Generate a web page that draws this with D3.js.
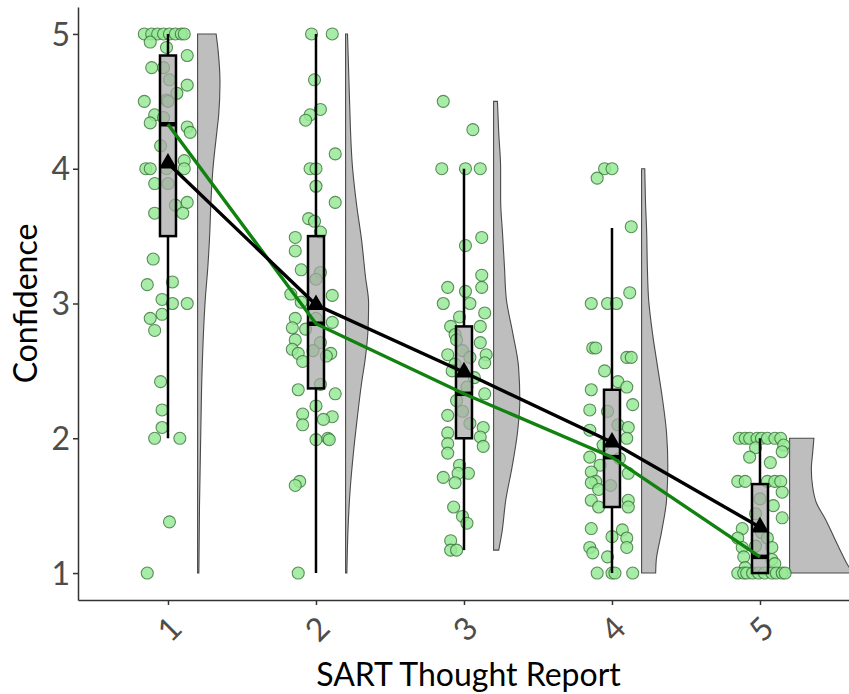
<!DOCTYPE html>
<html>
<head>
<meta charset="utf-8">
<script src="https://cdn.jsdelivr.net/npm/d3@7/dist/d3.min.js"></script>
<style>
  body { margin: 0; background: #fff; }
  text { font-family: "Gill Sans", "Gill Sans MT", Lato, sans-serif; }
</style>
</head>
<body>
<div id="container"></div>
<script>
// SART thought report categories and y ticks.
const categories = [1, 2, 3, 4, 5];
const yTicks = [1, 2, 3, 4, 5];

// Confidence per participant and the horizontal jitter of each dot, in category units.
const conf1 = [5, 5, 5, 5, 5, 5, 5, 5, 4.94, 4.9, 4.84, 4.75, 4.75, 4.66, 4.62, 4.56, 4.5, 4.51, 4.5, 4.4, 4.38, 4.34, 4.31, 4.27, 4.17, 4.06,
  4, 4, 4, 4, 3.89, 3.89, 3.75, 3.73, 3.67, 3.67, 3.33, 3.16, 3.14, 3.03, 3, 3, 2.92, 2.89, 2.8, 2.42, 2.21, 2.08, 2, 2, 1.38, 1];
const jit1 = [-0.16, -0.11, -0.07, -0.03, 0.01, 0.05, 0.09, 0.11, -0.12, -0.01, 0.13, -0.11, -0.03, 0.01, 0.13, 0.06, -0.16, -0.01, 0.0, -0.09, -0.03, -0.12, 0.13, 0.15, -0.05, 0.11,
  -0.15, -0.12, -0.01, 0.11, -0.09, 0.0, 0.13, 0.05, -0.09, 0.10, -0.10, 0.03, -0.14, -0.04, 0.03, 0.13, -0.04, -0.12, -0.09, -0.05, -0.04, -0.04, -0.09, 0.08, 0.01, -0.14];

const conf2 = [5, 5, 4.66, 4.44, 4.4, 4.36, 4.11, 4, 4, 3.87, 3.75, 3.63, 3.61, 3.53, 3.49, 3.39, 3.25, 3.23, 3.18, 3.07, 3.06, 3.01,
  2.89, 2.89, 2.86, 2.82, 2.81, 2.73, 2.71, 2.66, 2.63, 2.63, 2.65, 2.57, 2.61, 2.4, 2.36, 2.33, 2.24, 2.18, 2.16, 2.14, 2.1, 2, 1.99, 1.99, 1.68, 1.65, 1];
const jit2 = [-0.03, 0.11, -0.01, 0.03, -0.04, -0.07, 0.13, -0.04, 0.0, 0.0, 0.13, -0.05, -0.01, 0.03, -0.14, -0.14, -0.10, 0.03, 0.0, -0.17, 0.11, -0.10,
  -0.14, 0.0, 0.11, -0.16, -0.07, -0.14, 0.03, -0.16, -0.12, 0.10, -0.02, -0.09, 0.07, 0.03, -0.12, 0.13, 0.0, -0.09, 0.11, 0.05, -0.09, 0.08, 0.0, 0.09, -0.11, -0.14, -0.12];

const conf3 = [4.5, 4.29, 4, 4, 4, 3.49, 3.43, 3.21, 3.12, 3.12, 3.09, 3, 3, 2.93, 2.9, 2.83, 2.83, 2.77, 2.73, 2.71, 2.65, 2.62, 2.62, 2.6, 2.56, 2.55,
  2.5, 2.45, 2.38, 2.33, 2.28, 2.2, 2.17, 2.11, 2.08, 2.04, 2.01, 1.96, 1.94, 1.89, 1.8, 1.74, 1.74, 1.71, 1.67, 1.49, 1.42, 1.37, 1.24, 1.17, 1.17];
const jit3 = [-0.14, 0.06, -0.15, 0.01, 0.11, 0.12, 0.01, 0.12, 0.12, -0.11, 0.01, -0.14, 0.04, 0.14, -0.03, -0.09, 0.11, -0.06, -0.05, 0.11, -0.01, 0.15, -0.11, 0.04, 0.14, -0.06,
  -0.08, 0.07, 0.02, 0.14, -0.05, -0.01, -0.11, 0.04, 0.13, -0.11, 0.11, -0.11, 0.13, -0.11, -0.03, 0.03, -0.04, -0.14, -0.06, -0.07, -0.01, 0.02, -0.09, -0.09, -0.05];

const conf4 = [4, 4, 3.93, 3.57, 3.08, 3, 3, 3, 2.67, 2.67, 2.6, 2.6, 2.5, 2.42, 2.38, 2.36, 2.25, 2.21, 2.2, 2.1, 2.08, 2.06, 2, 1.95, 1.86, 1.85,
  1.8, 1.75, 1.74, 1.68, 1.67, 1.65, 1.62, 1.54, 1.54, 1.49, 1.49, 1.33, 1.32, 1.27, 1.26, 1.19, 1.19, 1.15, 1.12, 1, 1, 1, 1];
const jit4 = [-0.05, 0.0, -0.10, 0.13, 0.12, -0.14, -0.03, 0.03, -0.13, -0.11, 0.10, 0.13, -0.05, 0.04, 0.10, -0.14, 0.14, -0.15, -0.03, 0.04, 0.11, -0.15, 0.10, -0.06, -0.15, 0.05,
  -0.08, -0.14, 0.11, -0.11, -0.14, -0.01, -0.09, -0.14, 0.11, 0.11, -0.09, -0.14, 0.07, 0.0, 0.10, 0.10, -0.15, -0.13, -0.03, -0.10, 0.0, 0.02, 0.14];

const conf5 = [2, 2, 2, 2, 2, 2, 2, 2, 1.95, 1.93, 1.9, 1.86, 1.82, 1.68, 1.68, 1.68, 1.68, 1.68, 1.6, 1.55, 1.5, 1.44, 1.41, 1.33, 1.3,
  1.26, 1.26, 1.2, 1.19, 1.19, 1.12, 1.1, 1.07, 1.04, 1, 1, 1, 1, 1, 1, 1, 1, 1, 1];
const jit5 = [-0.14, -0.10, -0.07, -0.02, 0.01, 0.05, 0.10, 0.14, 0.16, -0.03, 0.15, -0.07, 0.07, -0.15, -0.10, 0.05, 0.10, 0.14, 0.15, 0.0, 0.09, -0.03, 0.15, -0.12, 0.01,
  -0.15, 0.05, -0.03, -0.12, 0.08, -0.11, 0.08, 0.10, -0.10, -0.15, -0.11, -0.09, -0.05, -0.01, 0.03, 0.08, 0.11, 0.15, 0.17];

// Box plot summaries.
const medians = [4.33, 2.85, 2.33, 1.86, 1.12];
const means = [4.04, 2.99, 2.49, 1.97, 1.34];
const q1 = [3.5, 2.37, 2.0, 1.49, 1.0];
const q3 = [4.84, 3.5, 2.83, 2.36, 1.66];
const whiskLo = [2.0, 1.0, 1.17, 1.0, 1.0];
const whiskHi = [5.0, 5.0, 4.0, 3.56, 2.0];

// Half-violin density profiles: [confidence, relative density].
const dens1 = [[5, 0.29], [4.88, 0.32], [4.64, 0.35], [4.4, 0.33], [4.27, 0.30], [4.0, 0.24], [3.77, 0.21], [3.52, 0.19], [3.27, 0.16], [3.03, 0.12], [2.5, 0.07], [2.04, 0.05], [1.5, 0.03], [1.0, 0.02]];
const dens2 = [[5, 0.03], [4.53, 0.06], [4.0, 0.11], [3.74, 0.17], [3.47, 0.25], [3.2, 0.31], [3.0, 0.36], [2.8, 0.35], [2.6, 0.31], [2.41, 0.25], [2.14, 0.18], [1.88, 0.12], [1.61, 0.07], [1.35, 0.04], [1.0, 0.02]];
const dens3 = [[4.5, 0.06], [4.27, 0.08], [4.0, 0.11], [3.77, 0.11], [3.52, 0.14], [3.27, 0.17], [3.03, 0.2], [2.78, 0.3], [2.53, 0.39], [2.28, 0.41], [2.03, 0.37], [1.79, 0.29], [1.54, 0.19], [1.3, 0.13], [1.17, 0.08]];
const dens4 = [[4.0, 0.05], [3.77, 0.06], [3.52, 0.08], [3.27, 0.09], [3.03, 0.11], [2.78, 0.17], [2.53, 0.25], [2.28, 0.33], [2.04, 0.39], [1.79, 0.41], [1.54, 0.39], [1.3, 0.31], [1.1, 0.23], [1.0, 0.22]];
const dens5 = [[2.0, 0.38], [1.89, 0.36], [1.77, 0.34], [1.64, 0.36], [1.52, 0.42], [1.4, 0.56], [1.27, 0.69], [1.15, 0.81], [1.05, 0.92], [1.0, 1.0]];

const groups = categories.map((c, i) => ({
  cat: c,
  values: [conf1, conf2, conf3, conf4, conf5][i],
  jitter: [jit1, jit2, jit3, jit4, jit5][i],
  dens: [dens1, dens2, dens3, dens4, dens5][i],
  median: medians[i], mean: means[i], q1: q1[i], q3: q3[i], lo: whiskLo[i], hi: whiskHi[i]
}));

// Container SVG.
const W = 849, H = 694;
const margin = { top: 7, right: -10, bottom: 94, left: 78 };
const width = W - margin.left - margin.right,
  height = H - margin.top - margin.bottom;

const svg = d3.select('#container')
  .append('svg')
  .attr('width', W)
  .attr('height', H)
  .style('display', 'block');

const g = svg.append('g').attr('transform', `translate(${margin.left} ${margin.top})`);

// Scales.
const x = d3.scaleLinear().domain([0.392, 5.669]).range([0, width]);
const y = d3.scaleLinear().domain([0.8, 5.2]).range([height, 0]);
const wScale = d3.scaleLinear().domain([0, 1]).range([0, 64]);

g.append('clipPath').attr('id', 'panel')
  .append('rect').attr('width', width).attr('height', height);

const panel = g.append('g').attr('clip-path', 'url(#panel)');

// Half violins, nudged right of each category.
const nudge = 0.2;
panel.selectAll('.violin')
  .data(groups)
  .enter()
  .append('path')
  .attr('class', 'violin')
  .attr('d', d => {
    const left = x(d.cat + nudge);
    return d3.area()
      .y(p => y(p[0]))
      .x0(left)
      .x1(p => left + wScale(p[1]))
      .curve(d3.curveMonotoneY)(d.dens);
  })
  .style('fill', '#bebebe')
  .style('stroke', '#4a4a4a')
  .style('stroke-width', 1.1);

// Jittered points.
const pts = groups.flatMap(d => d.values.map((v, i) => ({ cat: d.cat, v, j: d.jitter[i] })));
panel.selectAll('.pt')
  .data(pts)
  .enter()
  .append('circle')
  .attr('class', 'pt')
  .attr('cx', d => x(d.cat + d.j))
  .attr('cy', d => y(d.v))
  .attr('r', 6)
  .style('fill', '#98ea98')
  .style('stroke', '#3d7a3d')
  .style('stroke-width', 1.1)
  .style('opacity', 0.85);

// Box plots.
const boxW = 16;
const box = panel.selectAll('.box')
  .data(groups)
  .enter()
  .append('g')
  .attr('class', 'box')
  .attr('transform', d => `translate(${x(d.cat)} 0)`);

box.append('line')
  .attr('y1', d => y(d.hi)).attr('y2', d => y(d.q3))
  .style('stroke', '#000').style('stroke-width', 2.5);
box.append('line')
  .attr('y1', d => y(d.q1)).attr('y2', d => y(d.lo))
  .style('stroke', '#000').style('stroke-width', 2.5);
box.append('rect')
  .attr('x', -boxW / 2)
  .attr('width', boxW)
  .attr('y', d => y(d.q3))
  .attr('height', d => y(d.q1) - y(d.q3))
  .style('fill', '#a8a8a8')
  .style('fill-opacity', 0.72)
  .style('stroke', '#000')
  .style('stroke-width', 2.5);
box.append('line')
  .attr('x1', -boxW / 2).attr('x2', boxW / 2)
  .attr('y1', d => y(d.median)).attr('y2', d => y(d.median))
  .style('stroke', '#000').style('stroke-width', 4.5);

// Median and mean lines.
panel.append('path')
  .datum(groups)
  .attr('d', d3.line().x(d => x(d.cat)).y(d => y(d.median)))
  .style('fill', 'none')
  .style('stroke', '#11820f')
  .style('stroke-width', 3.4);

panel.append('path')
  .datum(groups)
  .attr('d', d3.line().x(d => x(d.cat)).y(d => y(d.mean)))
  .style('fill', 'none')
  .style('stroke', '#000')
  .style('stroke-width', 3.4);

panel.selectAll('.mean')
  .data(groups)
  .enter()
  .append('path')
  .attr('class', 'mean')
  .attr('d', d3.symbol(d3.symbolTriangle, 140))
  .attr('transform', d => `translate(${x(d.cat)} ${y(d.mean)})`)
  .style('fill', '#000');

// Axes.
const yAxis = g.append('g')
  .call(d3.axisLeft(y).tickValues(yTicks).tickSize(5).tickSizeOuter(0).tickPadding(3).tickFormat(d3.format('d')));
const xAxis = g.append('g')
  .attr('transform', `translate(0 ${height})`)
  .call(d3.axisBottom(x).tickValues(categories).tickSize(5).tickSizeOuter(0).tickFormat(d3.format('d')));

[yAxis, xAxis].forEach(a => {
  a.select('.domain').style('stroke', '#333').style('stroke-width', 1.5);
  a.selectAll('.tick line').style('stroke', '#333').style('stroke-width', 1.5);
  a.selectAll('.tick text').style('fill', '#4d4d4d').style('font-size', '32px')
    .style('font-family', '"Gill Sans", "Gill Sans MT", Lato, sans-serif');
});

xAxis.selectAll('.tick text')
  .attr('y', 0)
  .attr('dy', null)
  .attr('dominant-baseline', 'central')
  .attr('text-anchor', 'middle')
  .attr('transform', 'translate(0 28) rotate(-45)');

yAxis.selectAll('.tick text').attr('dy', '0.35em');

// Axis titles.
g.append('text')
  .text('SART Thought Report')
  .attr('x', width / 2)
  .attr('y', height + 86)
  .attr('text-anchor', 'middle')
  .style('font-size', '32px')
  .style('fill', '#000');

g.append('text')
  .text('Confidence')
  .attr('transform', `translate(${-margin.left + 37} ${height / 2}) rotate(-90)`)
  .attr('text-anchor', 'middle')
  .style('font-size', '32px')
  .style('fill', '#000');
</script>
</body>
</html>
